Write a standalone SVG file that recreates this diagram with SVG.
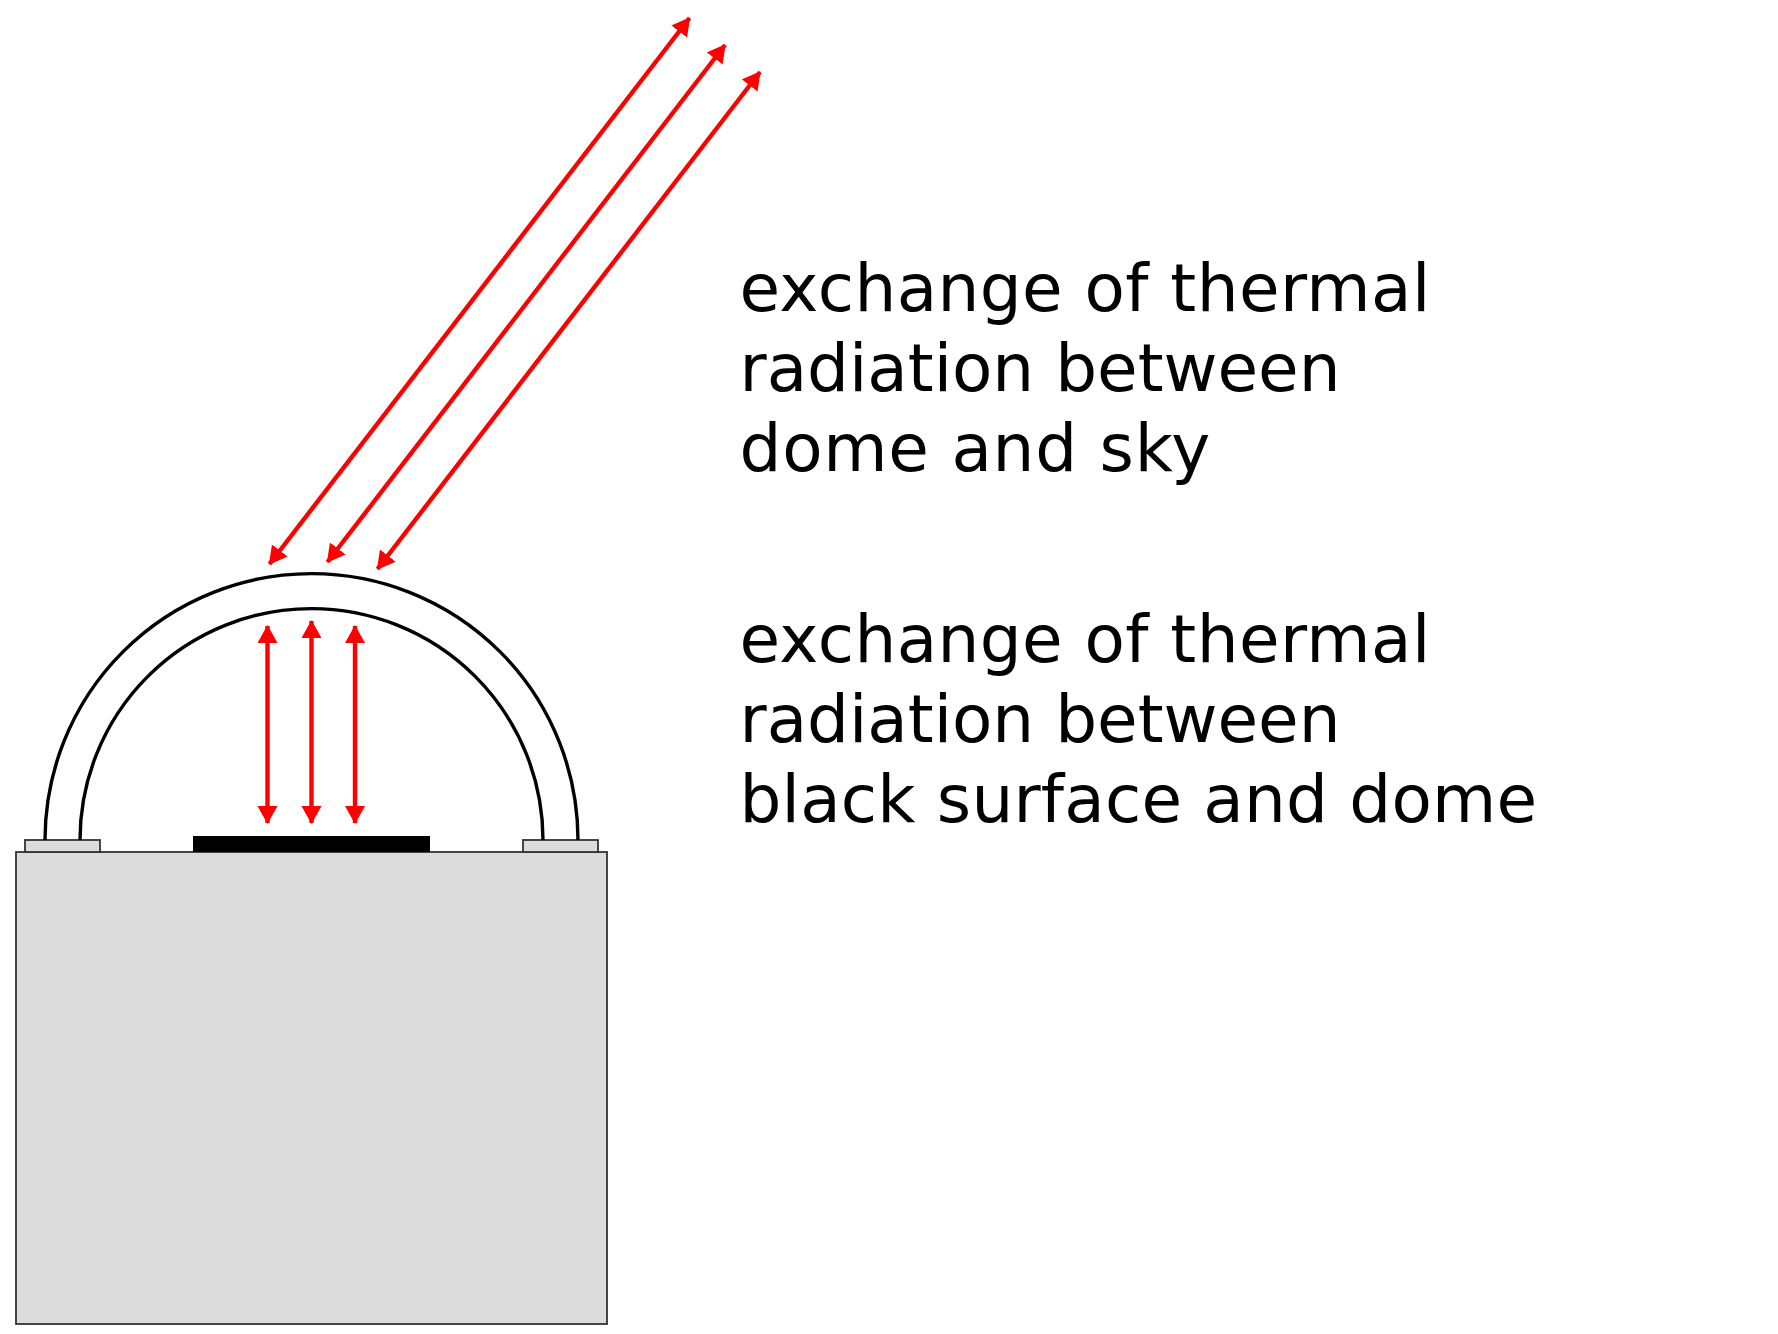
<svg xmlns="http://www.w3.org/2000/svg" width="1778" height="1334" viewBox="0 0 1778 1334">
<style>
.base{fill:#dcdcdc;stroke:#333;stroke-width:1.8}
.dome{fill:none;stroke:#000;stroke-width:3.4}
.ray{fill:none;stroke:#f00;stroke-width:4.4;stroke-linecap:butt;marker-start:url(#head);marker-end:url(#head)}
text{font-family:"DejaVu Sans",Verdana,sans-serif;font-size:66px;fill:#000}
.l1{letter-spacing:.42px}
.l3a{letter-spacing:.75px}
.l3b{letter-spacing:.2px}
</style>
<defs>
<marker id="head" markerUnits="userSpaceOnUse" markerWidth="22" markerHeight="22" refX="17" refY="10" orient="auto-start-reverse" viewBox="0 0 22 22">
<path d="M0 0L18 10L0 20Z" fill="#f00"/>
</marker>
</defs>
<rect width="1778" height="1334" fill="#fff"/>
<g id="base">
<rect class="base" x="16" y="852" width="591" height="472"/>
</g>
<g id="tab-left"><rect class="base" x="25" y="840" width="75" height="12"/></g>
<g id="tab-right"><rect class="base" x="523" y="840" width="75" height="12"/></g>
<g id="black-surface"><rect x="193" y="836" width="237" height="16" fill="#000"/></g>
<g id="dome">
<path class="dome" d="M45 840A266.500 266.500 0 0 1 578 840"/>
<path class="dome" d="M80 840A231.500 231.500 0 0 1 543 840"/>
</g>
<g id="connectors">
<path class="ray" d="M689.500 18L269.500 564"/>
<path class="ray" d="M725 45L327.500 562"/>
<path class="ray" d="M760 72L377.500 569"/>
<path class="ray" d="M267.500 626V823"/>
<path class="ray" d="M311.500 621V823"/>
<path class="ray" d="M355 626V823"/>
</g>
<g id="label-sky">
<text class="l1" x="739.500" y="311">exchange of thermal</text>
<text x="739.500" y="391">radiation between</text>
<text class="l3a" x="739.500" y="471">dome and sky</text>
</g>
<g id="label-surface">
<text class="l1" x="739.500" y="662">exchange of thermal</text>
<text x="739.500" y="742">radiation between</text>
<text class="l3b" x="739.500" y="822">black surface and dome</text>
</g>
</svg>
